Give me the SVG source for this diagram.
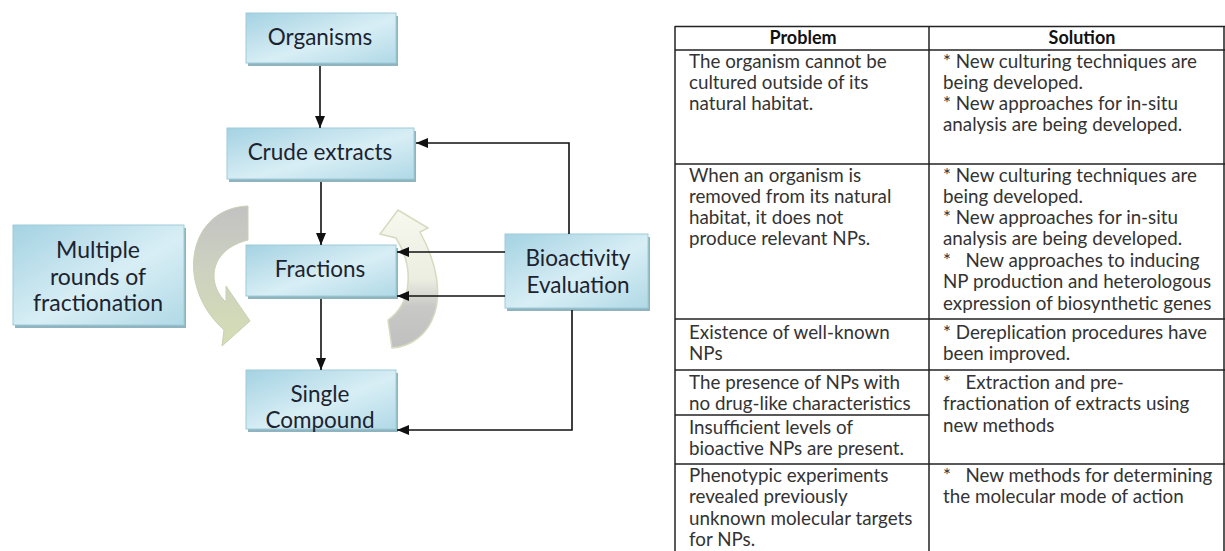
<svg xmlns="http://www.w3.org/2000/svg" width="1225" height="551" viewBox="0 0 1225 551">
<style>
.box{fill:url(#boxg);stroke:#9fcbda;stroke-width:1}
.shadow{fill:#8fb4c0}
.lbl{font-family:Lato,"Liberation Sans",sans-serif;font-size:22.5px;fill:#1c2330;text-anchor:middle}
.big{font-size:23px}
.conn{stroke:#111;stroke-width:1.6;fill:none}
.grid{stroke:#222;stroke-width:1.5;fill:none}
.t{font-family:Lato,"Liberation Sans",sans-serif;font-size:18.8px;fill:#333}
.h{font-family:Lato,"Liberation Sans",sans-serif;font-size:18px;font-weight:bold;fill:#111;text-anchor:middle}
</style>
<defs>
<linearGradient id="boxg" x1="0" y1="0" x2="1" y2="1">
<stop offset="0" stop-color="#a4d2e2"/>
<stop offset="0.55" stop-color="#d8eef5"/>
<stop offset="1" stop-color="#b0d9e6"/>
</linearGradient>
<linearGradient id="lgrad" x1="0" y1="0" x2="0" y2="1">
<stop offset="0" stop-color="#c2c2c2"/>
<stop offset="0.45" stop-color="#cdd1c0"/>
<stop offset="1" stop-color="#d4deb4"/>
</linearGradient>
<linearGradient id="rgrad" x1="0" y1="0" x2="0" y2="1">
<stop offset="0" stop-color="#f7f8ee"/>
<stop offset="0.5" stop-color="#eceee2"/>
<stop offset="0.7" stop-color="#c8c8c6"/>
<stop offset="1" stop-color="#c0c0c0"/>
</linearGradient>
<marker id="ah" viewBox="0 0 12 10" refX="12" refY="5" markerWidth="12" markerHeight="10" markerUnits="userSpaceOnUse" orient="auto">
<path d="M0,0 L12,5 L0,10 Z" fill="#111"/>
</marker>
</defs>

<g id="curve-left">
<path d="M 248 206 C 188 208 174 285 224 330 L 222 346 L 250 321 L 226 286 L 226 302 C 207 285 208 250 248 240 Z" fill="url(#lgrad)" stroke="#c9d0b4" stroke-width="1"/>
</g>
<g id="curve-right">
<path d="M 392 348 C 432 345 456 298 420 232 L 428 228 L 398 210 L 380 234 L 396 238 C 416 270 410 305 388 320 Z" fill="url(#rgrad)" stroke="#d6dabe" stroke-width="1.5"/>
</g>

<g id="organisms">
<rect class="shadow" x="248" y="16" width="150" height="50"/>
<rect class="box" x="246" y="13" width="150" height="50"/>
<text class="lbl" x="320" y="45">Organisms</text>
</g>
<g id="crude-extracts">
<rect class="shadow" x="229" y="131" width="187" height="51"/>
<rect class="box" x="227" y="128" width="187" height="51"/>
<text class="lbl" x="320" y="160">Crude extracts</text>
</g>
<g id="fractions">
<rect class="shadow" x="248" y="248" width="150" height="51"/>
<rect class="box" x="246" y="245" width="150" height="51"/>
<text class="lbl" x="320" y="277">Fractions</text>
</g>
<g id="single-compound">
<rect class="shadow" x="248" y="373" width="150" height="59"/>
<rect class="box" x="246" y="370" width="150" height="59"/>
<text class="lbl" x="320" y="402">Single</text>
<text class="lbl" x="320" y="428">Compound</text>
</g>
<g id="multiple-rounds">
<rect class="shadow" x="15" y="228" width="171" height="100"/>
<rect class="box" x="13" y="225" width="171" height="100"/>
<text class="lbl big" x="98" y="258">Multiple</text>
<text class="lbl big" x="98" y="285">rounds of</text>
<text class="lbl big" x="98" y="311">fractionation</text>
</g>
<g id="bioactivity">
<rect class="shadow" x="507" y="237" width="143" height="74"/>
<rect class="box" x="505" y="234" width="143" height="74"/>
<text class="lbl" x="578" y="266">Bioactivity</text>
<text class="lbl" x="578" y="293">Evaluation</text>
</g>

<g id="connectors">
<line class="conn" x1="320" y1="66" x2="320" y2="128" marker-end="url(#ah)"/>
<line class="conn" x1="321" y1="182" x2="321" y2="245" marker-end="url(#ah)"/>
<line class="conn" x1="321" y1="299" x2="321" y2="370" marker-end="url(#ah)"/>
<polyline class="conn" points="569,234 569,143 416,143" marker-end="url(#ah)"/>
<line class="conn" x1="505" y1="252" x2="397" y2="252" marker-end="url(#ah)"/>
<line class="conn" x1="505" y1="296" x2="397" y2="296" marker-end="url(#ah)"/>
<polyline class="conn" points="572,310 572,430 397,430" marker-end="url(#ah)"/>
</g>

<g id="table">
<line class="grid" x1="675" y1="26.5" x2="1225" y2="26.5"/>
<line class="grid" x1="675" y1="50" x2="1225" y2="50"/>
<line class="grid" x1="675" y1="164" x2="1225" y2="164"/>
<line class="grid" x1="675" y1="319" x2="1225" y2="319"/>
<line class="grid" x1="675" y1="370" x2="1225" y2="370"/>
<line class="grid" x1="675" y1="415" x2="929" y2="415"/>
<line class="grid" x1="675" y1="464" x2="1225" y2="464"/>
<line class="grid" x1="675" y1="26" x2="675" y2="551"/>
<line class="grid" x1="929" y1="26" x2="929" y2="551"/>
<line class="grid" x1="1224" y1="26" x2="1224" y2="551"/>
<text class="h" x="803" y="44">Problem</text>
<text class="h" x="1082" y="44">Solution</text>

<text class="t" x="689" y="68">The organism cannot be</text>
<text class="t" x="689" y="89">cultured outside of its</text>
<text class="t" x="689" y="110">natural habitat.</text>
<text class="t" x="943" y="68">* New culturing techniques are</text>
<text class="t" x="943" y="89">being developed.</text>
<text class="t" x="943" y="110">* New approaches for in-situ</text>
<text class="t" x="943" y="131">analysis are being developed.</text>

<text class="t" x="689" y="182">When an organism is</text>
<text class="t" x="689" y="203">removed from its natural</text>
<text class="t" x="689" y="224">habitat, it does not</text>
<text class="t" x="689" y="245">produce relevant NPs.</text>
<text class="t" x="943" y="182">* New culturing techniques are</text>
<text class="t" x="943" y="203">being developed.</text>
<text class="t" x="943" y="224">* New approaches for in-situ</text>
<text class="t" x="943" y="245">analysis are being developed.</text>
<text class="t" x="943" y="267" xml:space="preserve">*   New approaches to inducing</text>
<text class="t" x="943" y="288">NP production and heterologous</text>
<text class="t" x="943" y="310">expression of biosynthetic genes</text>

<text class="t" x="689" y="339">Existence of well-known</text>
<text class="t" x="689" y="360">NPs</text>
<text class="t" x="943" y="339">* Dereplication procedures have</text>
<text class="t" x="943" y="360">been improved.</text>

<text class="t" x="689" y="389">The presence of NPs with</text>
<text class="t" x="689" y="410">no drug-like characteristics</text>
<text class="t" x="689" y="434">Insufficient levels of</text>
<text class="t" x="689" y="455">bioactive NPs are present.</text>
<text class="t" x="943" y="389" xml:space="preserve">*   Extraction and pre-</text>
<text class="t" x="943" y="410">fractionation of extracts using</text>
<text class="t" x="943" y="432">new methods</text>

<text class="t" x="689" y="482">Phenotypic experiments</text>
<text class="t" x="689" y="503">revealed previously</text>
<text class="t" x="689" y="525">unknown molecular targets</text>
<text class="t" x="689" y="546">for NPs.</text>
<text class="t" x="943" y="482" xml:space="preserve">*   New methods for determining</text>
<text class="t" x="943" y="503">the molecular mode of action</text>
</g>
</svg>
